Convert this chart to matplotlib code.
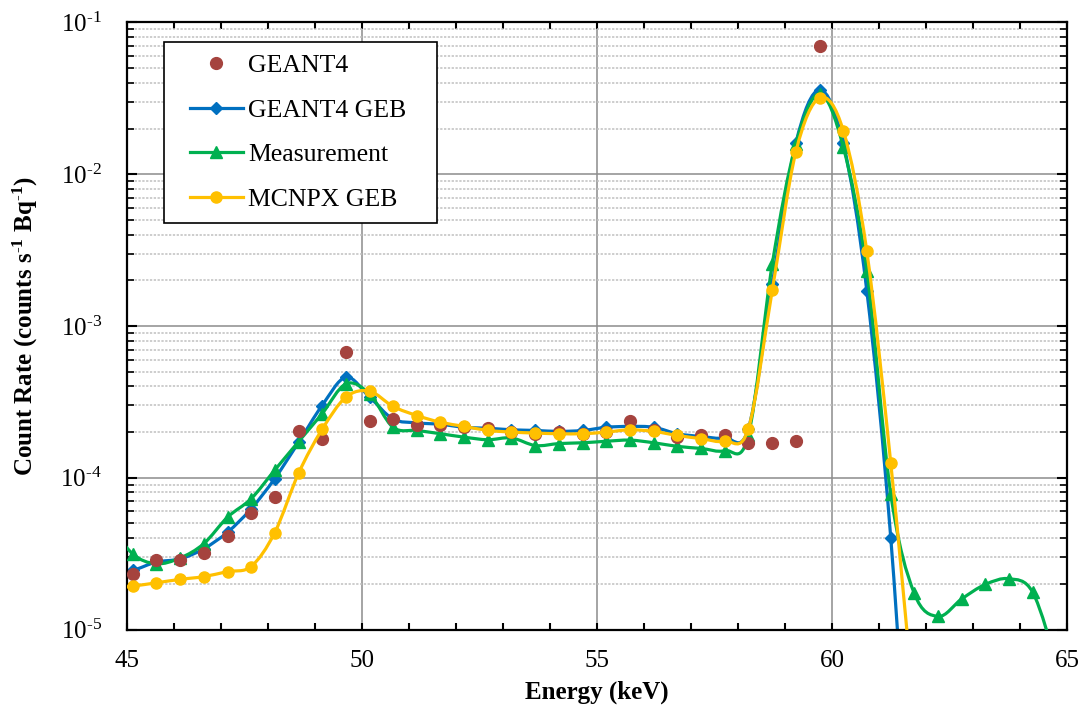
import numpy as np
import matplotlib
matplotlib.use("Agg")
import matplotlib.pyplot as plt
from matplotlib.path import Path
from matplotlib.patches import PathPatch, Rectangle
from matplotlib.lines import Line2D
from matplotlib.ticker import MultipleLocator, LogLocator, NullFormatter, FuncFormatter

plt.rcParams["font.family"] = "Liberation Serif"
plt.rcParams["mathtext.fontset"] = "custom"
plt.rcParams["mathtext.rm"] = "Liberation Serif"
plt.rcParams["mathtext.it"] = "Liberation Serif:italic"
plt.rcParams["mathtext.bf"] = "Liberation Serif:bold"

# channel energies (keV)
energy = [44.62, 45.12, 45.62, 46.13, 46.63, 47.14, 47.64, 48.14, 48.65, 49.15,
          49.66, 50.16, 50.66, 51.17, 51.67, 52.18, 52.68, 53.18, 53.69, 54.19,
          54.70, 55.20, 55.70, 56.21, 56.71, 57.22, 57.72, 58.22, 58.73, 59.23,
          59.74, 60.24, 60.74, 61.25, 61.75, 62.26, 62.76, 63.26, 63.77, 64.27,
          64.78]

# raw GEANT4 spectrum, 45.12 .. 59.74 keV
geant4 = [2.33e-5, 2.88e-5, 2.88e-5, 3.18e-5, 4.16e-5, 5.83e-5, 7.45e-5, 2.03e-4,
          1.81e-4, 6.71e-4, 2.38e-4, 2.44e-4, 2.21e-4, 2.21e-4, 2.15e-4, 2.12e-4,
          2.00e-4, 1.95e-4, 2.00e-4, 1.95e-4, 2.00e-4, 2.38e-4, 2.05e-4, 1.85e-4,
          1.90e-4, 1.92e-4, 1.70e-4, 1.70e-4, 1.74e-4, 6.95e-2]

# broadened GEANT4, 44.62 .. 61.75 keV
geant4_geb = [2.30e-5, 2.45e-5, 2.78e-5, 2.92e-5, 3.40e-5, 4.38e-5, 6.24e-5, 9.84e-5,
              1.71e-4, 2.99e-4, 4.60e-4, 3.40e-4, 2.44e-4, 2.30e-4, 2.25e-4, 2.15e-4,
              2.12e-4, 2.07e-4, 2.05e-4, 2.02e-4, 2.05e-4, 2.15e-4, 2.18e-4, 2.15e-4,
              1.95e-4, 1.87e-4, 1.83e-4, 2.10e-4, 1.90e-3, 1.60e-2, 3.60e-2, 1.60e-2,
              1.71e-3, 4.02e-5, 2.0e-7]

# measured spectrum, 44.62 .. 64.78 keV
measurement = [5.0e-5, 3.15e-5, 2.71e-5, 2.96e-5, 3.67e-5, 5.50e-5, 7.27e-5, 1.12e-4,
               1.73e-4, 2.64e-4, 4.16e-4, 3.57e-4, 2.15e-4, 2.05e-4, 1.95e-4, 1.85e-4,
               1.78e-4, 1.83e-4, 1.63e-4, 1.68e-4, 1.70e-4, 1.74e-4, 1.77e-4, 1.70e-4,
               1.61e-4, 1.56e-4, 1.51e-4, 1.90e-4, 2.57e-3, 1.58e-2, 3.39e-2, 1.51e-2,
               2.32e-3, 7.83e-5, 1.73e-5, 1.22e-5, 1.59e-5, 1.98e-5, 2.16e-5, 1.76e-5,
               6.0e-6]

# broadened MCNPX, 44.62 .. 61.75 keV
mcnpx_geb = [1.85e-5, 1.93e-5, 2.03e-5, 2.14e-5, 2.23e-5, 2.41e-5, 2.60e-5, 4.33e-5,
             1.07e-4, 2.08e-4, 3.40e-4, 3.72e-4, 2.95e-4, 2.57e-4, 2.32e-4, 2.18e-4,
             2.05e-4, 2.00e-4, 1.97e-4, 1.95e-4, 1.95e-4, 2.00e-4, 2.07e-4, 2.02e-4,
             1.90e-4, 1.81e-4, 1.74e-4, 2.10e-4, 1.73e-3, 1.40e-2, 3.19e-2, 1.94e-2,
             3.11e-3, 1.25e-4, 3.0e-6]

RED = "#A5433E"
BLUE = "#0070C0"
GREEN = "#00B050"
YELLOW = "#FFC000"


def smooth_path(x, y):
    # cubic bezier through the points, built in (x, log y)
    x = np.asarray(x, float)
    ly = np.log10(np.asarray(y, float))
    n = len(x)
    verts = [(x[0], ly[0])]
    codes = [Path.MOVETO]
    for i in range(n - 1):
        a = max(i - 1, 0)
        b = min(i + 2, n - 1)
        c1 = (x[i] + (x[i + 1] - x[a]) / 6, ly[i] + (ly[i + 1] - ly[a]) / 6)
        c2 = (x[i + 1] - (x[b] - x[i]) / 6, ly[i + 1] - (ly[b] - ly[i]) / 6)
        verts += [c1, c2, (x[i + 1], ly[i + 1])]
        codes += [Path.CURVE4] * 3
    verts = np.array(verts)
    verts[:, 1] = 10 ** verts[:, 1]
    return Path(verts, codes)


def draw_series(ax, x, y, color, marker, ms, z):
    ax.add_patch(PathPatch(smooth_path(x, y), fill=False, edgecolor=color,
                           lw=2.3, joinstyle="round", capstyle="butt", zorder=z))
    ax.plot(x, y, ls="none", marker=marker, ms=ms, color=color, mec=color, zorder=z)


def decade_label(v, pos):
    e = int(round(np.log10(v)))
    if e < 0:
        return r"$\mathdefault{10^{\text{-}%d}}$" % -e
    return r"$\mathdefault{10^{%d}}$" % e


fig = plt.figure(figsize=(10.83, 7.16), dpi=100)
ax = fig.add_axes([0.11727, 0.12081, 0.86796, 0.84777])

draw_series(ax, energy[:35], geant4_geb, BLUE, "D", 6, 2)
draw_series(ax, energy, measurement, GREEN, "^", 9, 3)
ax.plot(energy[1:31], geant4, ls="none", marker="o", ms=8.5, color=RED, zorder=4)
draw_series(ax, energy[:35], mcnpx_geb, YELLOW, "o", 8, 5)

ax.set_xlim(45, 65)
ax.set_yscale("log")
ax.set_ylim(1e-5, 1e-1)

ax.xaxis.set_major_locator(MultipleLocator(5))
ax.xaxis.set_minor_locator(MultipleLocator(1))
ax.yaxis.set_major_locator(LogLocator(base=10))
ax.yaxis.set_major_formatter(FuncFormatter(decade_label))
ax.yaxis.set_minor_locator(LogLocator(base=10, subs=np.arange(2, 10)))
ax.yaxis.set_minor_formatter(NullFormatter())

ax.tick_params(which="both", direction="in", top=True, right=True, labelsize=18,
               colors="black")
ax.tick_params(axis="x", which="both", length=5, width=1.5, pad=15)
ax.tick_params(axis="y", which="major", length=7, width=1.5, pad=18)
ax.tick_params(axis="y", which="minor", length=5, width=1.2)

for s in ax.spines.values():
    s.set_linewidth(1.6)

ax.set_axisbelow(True)
ax.grid(which="major", color="#8c8c8c", lw=1.1)
ax.grid(which="minor", axis="y", color="#c0c0c0", lw=1.1, ls=(0, (1.5, 1)))

ax.set_xlabel("Energy (keV)", fontsize=18, fontweight="bold", labelpad=6)
ax.set_ylabel(r"Count Rate (counts s$^{\mathbf{\text{-}1}}$ Bq$^{\mathbf{\text{-}1}}$)",
              fontsize=18, fontweight="bold", labelpad=15)

# legend box
ax.add_patch(Rectangle((0.0397, 0.6702), 0.2904, 0.2982, transform=ax.transAxes,
                       facecolor="white", edgecolor="black", lw=1.2, zorder=10))
handles = [
    Line2D([], [], ls="none", marker="o", ms=8.5, color=RED, label="GEANT4"),
    Line2D([], [], color=BLUE, lw=2.3, marker="D", ms=6, label="GEANT4 GEB"),
    Line2D([], [], color=GREEN, lw=2.3, marker="^", ms=9, label="Measurement"),
    Line2D([], [], color=YELLOW, lw=2.3, marker="o", ms=8, label="MCNPX GEB"),
]
leg = ax.legend(handles=handles, loc="upper left", bbox_to_anchor=(0.067, 0.948),
                frameon=False, fontsize=18.5, handlelength=2.05, handletextpad=0.2,
                labelspacing=0.84, borderpad=0, borderaxespad=0, numpoints=1)
leg.set_zorder(11)

fig.savefig("out.png", dpi=100)
